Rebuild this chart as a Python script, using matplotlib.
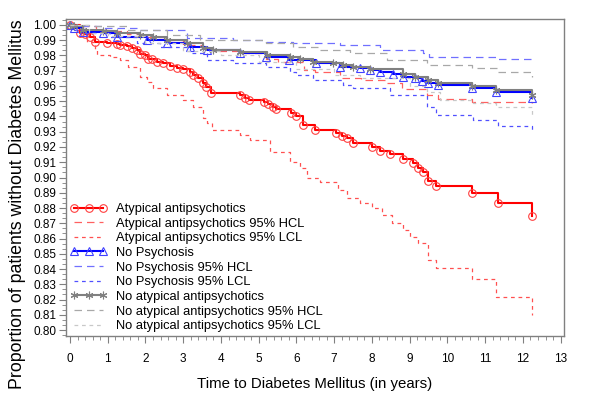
import matplotlib
matplotlib.use('Agg')
import matplotlib.pyplot as plt
from matplotlib.ticker import MultipleLocator, AutoMinorLocator

plt.rcParams['font.family'] = ['Liberation Sans', 'DejaVu Sans']

# Atypical antipsychotics (survival and 95% limits)
red_t = [0, 0.26, 0.40, 0.53, 0.66, 0.97, 1.24, 1.32, 1.50, 1.63, 1.77, 1.85, 1.98, 2.07, 2.16,
         2.30, 2.47, 2.65, 2.83, 3.00, 3.18, 3.27, 3.40, 3.53, 3.60, 3.74, 4.50, 4.63, 4.73,
         5.15, 5.24, 5.37, 5.46, 5.86, 6.00, 6.17, 6.49, 7.06, 7.20, 7.33, 7.50, 8.00, 8.21,
         8.48, 8.83, 9.09, 9.22, 9.35, 9.49, 9.71, 10.64, 11.35, 12.24]
red_s = [1.000, 0.9947, 0.994, 0.992, 0.989, 0.988, 0.9875, 0.987, 0.986, 0.985, 0.9835, 0.981,
         0.980, 0.978, 0.9775, 0.976, 0.975, 0.973, 0.972, 0.971, 0.969, 0.967, 0.965, 0.962,
         0.959, 0.9555, 0.954, 0.952, 0.951, 0.9495, 0.948, 0.946, 0.945, 0.942, 0.9405, 0.9344,
         0.931, 0.9294, 0.927, 0.9257, 0.9228, 0.920, 0.9176, 0.9154, 0.912, 0.9095, 0.906,
         0.9036, 0.898, 0.8944, 0.8896, 0.8835, 0.875]
red_hcl_t = [0, 0.3, 0.7, 1.0, 1.5, 2.0, 2.5, 3.0, 3.5, 3.8, 4.5, 5.2, 5.5, 6.2, 6.5, 7.15, 7.7,
             8.4, 8.8, 9.45, 9.76, 10.65, 12.25]
red_hcl = [1.0, 0.999, 0.997, 0.996, 0.994, 0.992, 0.990, 0.987, 0.985, 0.983, 0.9815, 0.978,
           0.976, 0.9705, 0.9694, 0.965, 0.964, 0.9617, 0.958, 0.954, 0.9515, 0.9495, 0.949]
red_lcl_t = [0, 0.26, 0.45, 0.66, 0.72, 1.06, 1.32, 1.55, 1.85, 2.03, 2.20, 2.56, 3.00, 3.27,
             3.53, 3.62, 3.75, 4.50, 4.77, 5.30, 5.83, 6.09, 6.27, 6.62, 7.10, 7.33, 7.68, 7.99,
             8.26, 8.52, 8.83, 9.00, 9.23, 9.49, 9.71, 10.64, 11.30, 12.25]
red_lcl = [1.0, 0.993, 0.989, 0.984, 0.980, 0.979, 0.977, 0.9727, 0.966, 0.9628, 0.9587, 0.954,
           0.951, 0.9464, 0.939, 0.9355, 0.931, 0.928, 0.9246, 0.917, 0.910, 0.906, 0.900,
           0.8973, 0.8918, 0.8864, 0.883, 0.880, 0.8754, 0.870, 0.8656, 0.8612, 0.857, 0.8459,
           0.8404, 0.8332, 0.8218, 0.8098]

# No Psychosis
blue_t = [0, 0.1, 0.35, 0.88, 1.24, 2.03, 2.56, 3.18, 3.62, 4.50, 5.20, 5.80, 6.53, 7.15, 7.68,
          7.95, 8.21, 8.57, 8.83, 9.14, 9.32, 9.49, 9.76, 10.64, 11.30, 12.25]
blue_s = [1.0, 0.998, 0.9956, 0.9945, 0.9923, 0.990, 0.988, 0.9858, 0.9836, 0.9814, 0.9792,
          0.977, 0.9749, 0.9727, 0.9716, 0.9705, 0.9694, 0.9677, 0.966, 0.965, 0.9633, 0.9617,
          0.9607, 0.9589, 0.9558, 0.9523]
blue_hcl_t = [0, 0.3, 0.88, 1.85, 3.09, 4.33, 5.2, 5.9, 7.15, 8.21, 9.36, 9.5, 11.3, 12.25]
blue_hcl = [1.0, 0.999, 0.998, 0.9967, 0.9913, 0.990, 0.989, 0.988, 0.9869, 0.9836, 0.9814,
            0.9792, 0.978, 0.978]
blue_lcl_t = [0, 0.1, 0.35, 1.06, 1.77, 2.38, 3.18, 3.62, 4.33, 5.2, 5.83, 6.0, 6.44, 7.24, 7.5,
              8.48, 9.45, 9.71, 10.68, 11.35, 12.25]
blue_lcl = [1.0, 0.997, 0.9945, 0.9923, 0.988, 0.9858, 0.9814, 0.977, 0.9749, 0.9727, 0.9694,
            0.967, 0.964, 0.9607, 0.9585, 0.954, 0.9464, 0.941, 0.9377, 0.9338, 0.930]

# No atypical antipsychotics
gray_t = [0, 0.1, 0.35, 0.88, 1.24, 1.85, 2.20, 2.56, 3.10, 3.53, 3.80, 4.50, 5.21, 5.83, 6.09,
          6.44, 6.97, 7.24, 7.50, 7.95, 8.83, 9.14, 9.49, 9.76, 10.64, 11.30, 12.25]
gray_s = [1.0, 0.999, 0.9967, 0.996, 0.995, 0.9934, 0.9923, 0.990, 0.988, 0.9847, 0.9836, 0.9825,
          0.980, 0.979, 0.978, 0.976, 0.9749, 0.9738, 0.9727, 0.971, 0.9677, 0.966, 0.964,
          0.9617, 0.960, 0.9574, 0.954]
gray_hcl_t = [0, 0.5, 1.5, 2.56, 3.44, 5.2, 5.9, 6.62, 7.42, 8.39, 9.45, 10.64, 11.35, 12.25]
gray_hcl = [1.0, 0.999, 0.997, 0.9934, 0.990, 0.988, 0.9858, 0.9836, 0.9814, 0.977, 0.9738,
            0.9716, 0.9694, 0.966]
gray_lcl_t = [0, 0.5, 1.0, 2.0, 3.0, 4.0, 5.0, 6.0, 7.0, 7.68, 9.0, 9.45, 9.8, 10.68, 11.3, 12.25]
gray_lcl = [1.0, 0.995, 0.993, 0.988, 0.983, 0.980, 0.976, 0.971, 0.967, 0.965, 0.960, 0.956,
            0.951, 0.9487, 0.946, 0.941]

fig = plt.figure(figsize=(6, 4.13), dpi=100)
ax = fig.add_axes([0.11, 0.1864, 0.83, 0.7676])

step = dict(drawstyle='steps-post')
ax.plot(red_t, red_s, color='#ff0000', lw=1.5, marker='o', ms=5.5, mfc='none', mec='#ff4040',
        mew=0.8, label='Atypical antipsychotics', **step)
ax.plot(red_hcl_t, red_hcl, color='#ff6060', lw=0.9, dashes=(6, 4),
        label='Atypical antipsychotics 95% HCL', **step)
ax.plot(red_lcl_t, red_lcl, color='#ff5050', lw=0.9, dashes=(3, 3),
        label='Atypical antipsychotics 95% LCL', **step)
ax.plot(blue_t, blue_s, color='#0000ff', lw=1.5, marker='^', ms=5.5, mfc='none', mec='#4040ff',
        mew=0.8, label='No Psychosis', **step)
ax.plot(blue_hcl_t, blue_hcl, color='#7070ff', lw=0.9, dashes=(6, 4),
        label='No Psychosis 95% HCL', **step)
ax.plot(blue_lcl_t, blue_lcl, color='#5050ff', lw=0.9, dashes=(3, 3),
        label='No Psychosis 95% LCL', **step)
ax.plot(gray_t, gray_s, color='#808080', lw=1.5, marker=(6, 2, 0), ms=5.5, mec='#808080',
        mew=0.8, label='No atypical antipsychotics', **step)
ax.plot(gray_hcl_t, gray_hcl, color='#a8a8a8', lw=0.9, dashes=(6, 4),
        label='No atypical antipsychotics 95% HCL', **step)
ax.plot(gray_lcl_t, gray_lcl, color='#c8c8c8', lw=0.9, dashes=(3, 3),
        label='No atypical antipsychotics 95% LCL', **step)

ax.set_xlim(-0.106, 13.09)
ax.set_ylim(0.7961, 1.0039)
ax.xaxis.set_major_locator(MultipleLocator(1))
ax.xaxis.set_minor_locator(AutoMinorLocator(5))
ax.yaxis.set_major_locator(MultipleLocator(0.01))
ax.yaxis.set_minor_locator(AutoMinorLocator(3))
ax.yaxis.set_major_formatter(plt.FormatStrFormatter('%.2f'))
ax.tick_params(which='major', length=5, width=0.8, color='#808080', labelsize=8.5, pad=2)
ax.tick_params(which='minor', length=3, width=0.6, color='#808080')
ax.tick_params(axis='x', pad=7)
for s in ax.spines.values():
    s.set_color('#808080')
    s.set_linewidth(1.0)

ax.set_xlabel('Time to Diabetes Mellitus (in years)', fontsize=10.8, labelpad=9)
# y label sits lower than the axes centre in the original
fig.text(18 / 600, 1 - 204 / 413, 'Proportion of patients without Diabetes Mellitus',
         rotation=90, ha='center', va='center', fontsize=12.8)

ax.legend(loc='lower left', frameon=False, fontsize=9.3, numpoints=3, handlelength=2.9,
          handletextpad=0.7, labelspacing=0.2, borderaxespad=0.1, borderpad=0.2)

fig.savefig('out.png', dpi=100)
